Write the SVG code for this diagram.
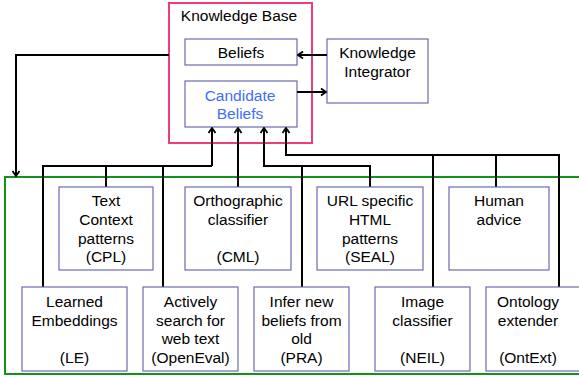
<svg xmlns="http://www.w3.org/2000/svg" width="579" height="377" viewBox="0 0 579 377">
<defs>
<marker id="ah" viewBox="-1 -1 8 10" refX="5.5" refY="4" markerWidth="8" markerHeight="10" orient="auto" markerUnits="userSpaceOnUse">
<path d="M0.5,0.5 L5.5,4 L0.5,7.5" fill="none" stroke="#000" stroke-width="1.8"/>
</marker>
<style>
text{font-family:"Liberation Sans",Arial,sans-serif;font-size:15.5px;fill:#000;text-anchor:middle}
.box{fill:#fff;stroke:#6b6bb5;stroke-width:1.2}
.c{fill:none;stroke:#000;stroke-width:2}
.a{fill:none;stroke:#000;stroke-width:2;marker-end:url(#ah)}
</style>
</defs>
<rect width="579" height="377" fill="#fff"/>
<g id="agents-area">
<rect x="5" y="177" width="590" height="197" fill="none" stroke="#11941a" stroke-width="2"/>
</g>
<g id="knowledge-base">
<rect x="169" y="3" width="143" height="140" fill="#fff" stroke="#f03c78" stroke-width="2"/>
<text x="239" y="21">Knowledge Base</text>
</g>
<g id="beliefs">
<rect class="box" x="185" y="39" width="112" height="26"/>
<text x="241" y="57.5">Beliefs</text>
</g>
<g id="candidate-beliefs">
<rect class="box" x="185" y="81" width="112" height="46"/>
<text x="240" y="101" style="fill:#3f6ef5">Candidate</text>
<text x="240" y="119" style="fill:#3f6ef5">Beliefs</text>
</g>
<g id="knowledge-integrator">
<rect class="box" x="327" y="39" width="101" height="64"/>
<text x="377.5" y="58">Knowledge</text>
<text x="377.5" y="77">Integrator</text>
</g>
<g id="connectors">
<path class="a" d="M327,55 H298"/>
<path class="a" d="M297,92 H326"/>
<path class="a" d="M169,55 H16 V176"/>
<path class="a" d="M212,166 V128"/>
<path class="c" d="M43,287 V166 H212"/>
<path class="c" d="M106,187 V166"/>
<path class="c" d="M163,287 V166"/>
<path class="a" d="M238,187 V128"/>
<path class="a" d="M370,187 V166 H264 V128"/>
<path class="c" d="M302,287 V166"/>
<path class="a" d="M559,287 V155 H286 V128"/>
<path class="c" d="M433,287 V155"/>
<path class="c" d="M496,187 V155"/>
</g>
<g id="cpl">
<rect class="box" x="59" y="187" width="94" height="83"/>
<text x="106" y="206">Text</text>
<text x="106" y="225">Context</text>
<text x="106" y="244">patterns</text>
<text x="106" y="262">(CPL)</text>
</g>
<g id="cml">
<rect class="box" x="185" y="187" width="106" height="83"/>
<text x="238" y="206">Orthographic</text>
<text x="238" y="225">classifier</text>
<text x="238" y="262">(CML)</text>
</g>
<g id="seal">
<rect class="box" x="317" y="187" width="106" height="83"/>
<text x="370" y="206">URL specific</text>
<text x="370" y="225">HTML</text>
<text x="370" y="244">patterns</text>
<text x="370" y="262">(SEAL)</text>
</g>
<g id="human">
<rect class="box" x="449" y="187" width="100" height="83"/>
<text x="499" y="206">Human</text>
<text x="499" y="225">advice</text>
</g>
<g id="le">
<rect class="box" x="22" y="287" width="105" height="84"/>
<text x="74.5" y="307">Learned</text>
<text x="74.5" y="326">Embeddings</text>
<text x="74.5" y="363">(LE)</text>
</g>
<g id="openeval">
<rect class="box" x="143" y="287" width="95" height="84"/>
<text x="190.5" y="307">Actively</text>
<text x="190.5" y="326">search for</text>
<text x="190.5" y="344">web text</text>
<text x="190.5" y="363">(OpenEval)</text>
</g>
<g id="pra">
<rect class="box" x="254" y="287" width="95" height="84"/>
<text x="301.5" y="307">Infer new</text>
<text x="301.5" y="326">beliefs from</text>
<text x="301.5" y="344">old</text>
<text x="301.5" y="363">(PRA)</text>
</g>
<g id="neil">
<rect class="box" x="375" y="287" width="95" height="84"/>
<text x="422.5" y="307">Image</text>
<text x="422.5" y="326">classifier</text>
<text x="422.5" y="363">(NEIL)</text>
</g>
<g id="ontext">
<rect class="box" x="486" y="287" width="94" height="84"/>
<text x="528" y="307">Ontology</text>
<text x="528" y="326">extender</text>
<text x="528" y="363">(OntExt)</text>
</g>
</svg>
